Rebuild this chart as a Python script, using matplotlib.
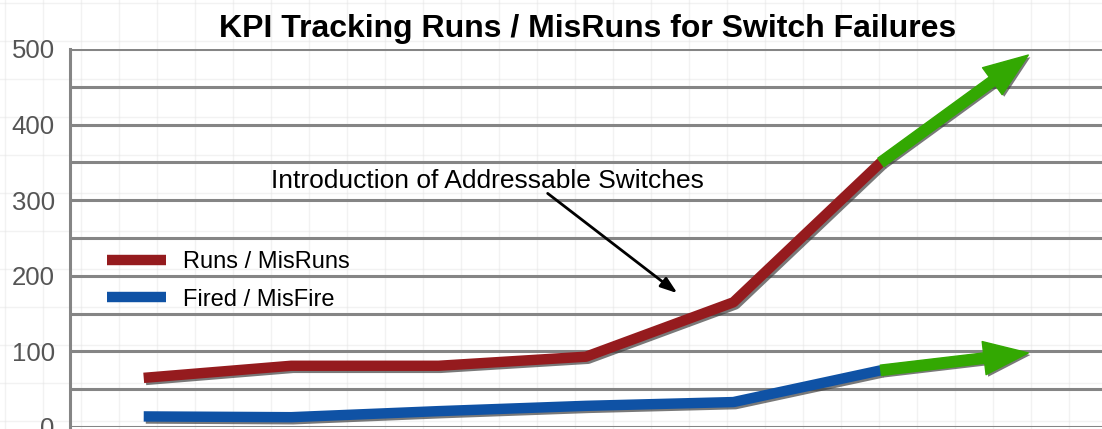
import matplotlib
matplotlib.use("Agg")
import matplotlib.pyplot as plt
import matplotlib.patheffects as pe
import numpy as np

plt.rcParams['font.family'] = ['Liberation Sans', 'DejaVu Sans']

# values
periods = [0, 1, 2, 3, 4, 5]
runs = [65, 81, 81, 93, 165, 350]
fired = [14, 13, 21, 28, 33, 75]
forecast_x = 6
runs_forecast = 492
fired_forecast = 98
yticks = [0, 100, 200, 300, 400, 500]

red = '#951b1e'
blue = '#0f52a5'
green = '#33a802'
grid_gray = '#858585'

shadow = [pe.SimpleLineShadow(offset=(1.5, -1.5), shadow_color='#404040', alpha=0.7), pe.Normal()]
patch_shadow = [pe.SimplePatchShadow(offset=(1.5, -1.5), shadow_rgbFace='#404040', alpha=0.7), pe.Normal()]


def main():
    fig = plt.figure(figsize=(11.02, 4.29), dpi=100)

    # faint graph-paper background
    bg = fig.add_axes([0, 0, 1, 1], zorder=-1)
    bg.set_xlim(0, 1102)
    bg.set_ylim(0, 429)
    for xv in np.arange(5, 1102, 38):
        bg.axvline(xv, color='#e6e6e6', lw=1.0, alpha=0.5)
    for yv in np.arange(8, 429, 38):
        bg.axhline(yv, color='#e6e6e6', lw=1.0, alpha=0.5)
    bg.axis('off')

    ax = fig.add_axes([70 / 1102, 2 / 429, 1 - 70 / 1102, 378 / 429])
    ax.patch.set_alpha(0)
    ax.set_xlim(-0.5, 6.5)
    ax.set_ylim(0, 500)

    ax.set_yticks(yticks)
    ax.set_yticks(np.arange(50, 500, 100), minor=True)
    ax.set_yticklabels([str(v) for v in yticks], fontsize=18.5, color='#555555')
    ax.tick_params(axis='y', which='both', length=0, pad=11)
    ax.set_xticks([])
    ax.grid(axis='y', which='both', color=grid_gray, lw=2.2)
    ax.set_axisbelow(True)
    for side in ['top', 'right', 'bottom']:
        ax.spines[side].set_visible(False)
    ax.spines['left'].set_color(grid_gray)
    ax.spines['left'].set_linewidth(2.2)

    ax.plot(periods, runs, color=red, lw=7.5, solid_capstyle='butt',
            solid_joinstyle='round', path_effects=shadow, label='Runs / MisRuns', zorder=3)
    ax.plot(periods, fired, color=blue, lw=7.5, solid_capstyle='butt',
            solid_joinstyle='round', path_effects=shadow, label='Fired / MisFire', zorder=3)

    # green forecast arrows
    for start, tip in [(runs[-1], runs_forecast), (fired[-1], fired_forecast)]:
        ax.annotate('', xy=(forecast_x, tip), xytext=(periods[-1], start),
                    arrowprops=dict(arrowstyle='simple,head_length=3.2,head_width=2.4,tail_width=0.75',
                                    color=green, shrinkA=0, shrinkB=0, mutation_scale=10,
                                    path_effects=patch_shadow),
                    zorder=4)

    ax.text(2.33, 326, 'Introduction of Addressable Switches', fontsize=19,
            ha='center', va='center', zorder=5)
    ax.annotate('', xy=(3.62, 177), xytext=(2.74, 309),
                arrowprops=dict(arrowstyle='-|>,head_length=1.0,head_width=0.35', color='black',
                                lw=2, shrinkA=0, shrinkB=0),
                zorder=5)

    leg = ax.legend(loc='center left', bbox_to_anchor=(0.036, 0.387), frameon=False, fontsize=17,
                    handlelength=2.5, handletextpad=0.72, labelspacing=0.67,
                    borderpad=0, borderaxespad=0)
    for line in leg.get_lines():
        line.set_linewidth(7.5)
        line.set_path_effects([])

    fig.text(0.533, 0.932, 'KPI Tracking Runs / MisRuns for Switch Failures',
             fontsize=23, fontweight='bold', ha='center', va='center')

    fig.savefig('out.png', dpi=100)


if __name__ == "__main__":
    main()
